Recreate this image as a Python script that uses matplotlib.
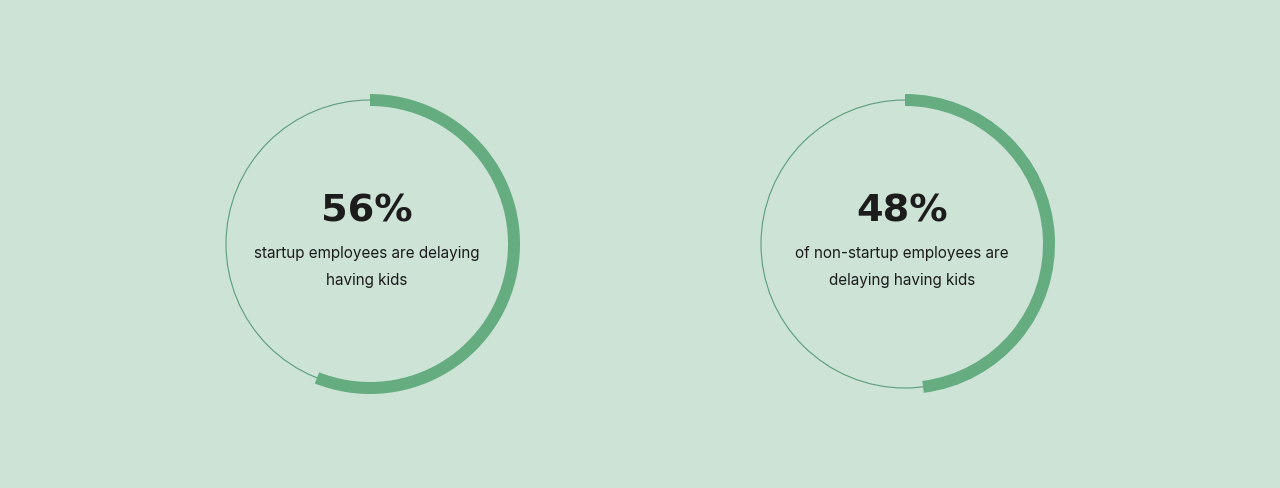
import matplotlib
matplotlib.use("Agg")
import matplotlib.pyplot as plt
from matplotlib.patches import Wedge, Circle

# Data
values = [56, 48]
value_labels = ["56%", "48%"]
descriptions = ["startup employees are delaying\nhaving kids",
                "of non-startup employees are\ndelaying having kids"]

BG = "#cce3d6"
ARC = "#65ac80"
THIN = "#5b9d7a"
TXT = "#1c1c1c"

W, H = 1280, 488
fig = plt.figure(figsize=(W / 100, H / 100), dpi=100, facecolor=BG)
ax = fig.add_axes([0, 0, 1, 1])
ax.set_xlim(0, W)
ax.set_ylim(0, H)
ax.set_aspect("equal")
ax.axis("off")
ax.set_facecolor(BG)

centers = [(370, 244), (905, 244)]
r = 144
band = 12

for (cx, cy), v, lab, desc in zip(centers, values, value_labels, descriptions):
    ax.add_patch(Circle((cx, cy), r, fill=False, edgecolor=THIN, linewidth=0.8))
    ax.add_patch(Wedge((cx, cy), r + band / 2, 90 - 360 * v / 100, 90,
                       width=band, facecolor=ARC, edgecolor="none"))
    tx = cx - 3
    ax.text(tx, H - 211, lab, ha="center", va="center", fontsize=27.5,
            fontweight="bold", color=TXT, family="DejaVu Sans")
    ax.text(tx, H - 267, desc, ha="center", va="center", fontsize=11,
            color=TXT, family="Inter", linespacing=1.95)

fig.savefig("out.png", dpi=100, facecolor=BG)
